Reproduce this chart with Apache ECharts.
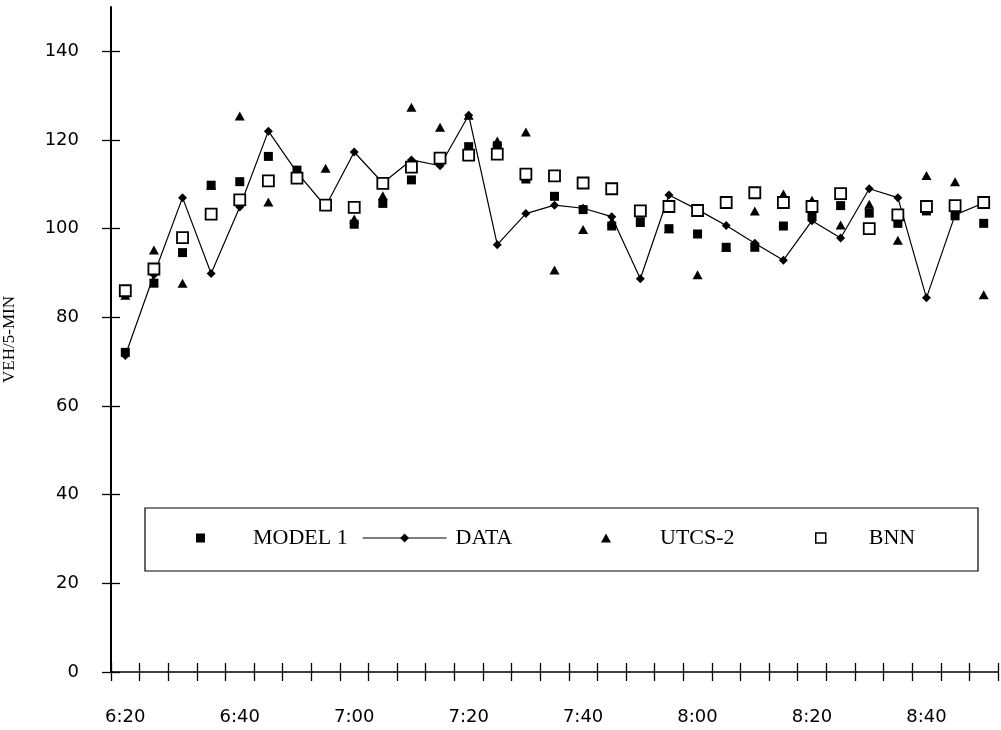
<!DOCTYPE html>
<html>
<head>
<meta charset="utf-8">
<script src="https://cdn.jsdelivr.net/npm/echarts@6/dist/echarts.min.js"></script>
<style>
html,body{margin:0;padding:0;background:#fff;}
#chart{width:1001px;height:730px;}
</style>
</head>
<body>
<div id="chart"></div>
<script>
const times = ['6:20','6:25','6:30','6:35','6:40','6:45','6:50','6:55','7:00','7:05','7:10','7:15','7:20','7:25','7:30','7:35','7:40','7:45','7:50','7:55','8:00','8:05','8:10','8:15','8:20','8:25','8:30','8:35','8:40','8:45','8:50'];
const yTicks = [0, 20, 40, 60, 80, 100, 120, 140];
const model1 = [72.1,87.7,94.6,109.8,110.6,116.3,113.2,105.0,101.0,105.7,111.0,115.5,118.5,118.7,111.2,107.3,104.3,100.6,101.4,100.0,98.8,95.8,95.8,100.6,102.7,105.2,103.5,101.2,104.0,102.9,101.2];
const dataVals = [71.4,89.6,107.0,89.9,104.9,122.0,112.7,105.0,117.3,110.3,115.5,114.2,125.6,96.4,103.4,105.3,104.6,102.7,88.7,107.6,104.3,100.7,96.7,92.9,101.8,97.9,109.0,107.0,84.4,103.1,105.8];
const utcs2 = [85.0,95.2,87.7,109.8,125.4,106.0,113.2,113.6,102.2,107.4,127.4,122.9,125.6,119.8,121.8,90.7,99.8,101.6,103.5,100.0,89.6,95.8,104.0,107.8,106.4,100.8,105.5,97.4,112.0,110.6,85.1];
const bnn = [86.0,90.9,98.0,103.3,106.5,110.8,111.4,105.3,104.8,110.2,113.9,115.9,116.6,116.8,112.3,111.9,110.3,109.0,104.0,105.0,104.1,105.9,108.1,105.9,105.0,107.9,100.0,103.1,105.0,105.2,105.9];

const chart = echarts.init(document.getElementById('chart'), null, {renderer: 'canvas'});
const sans = 'DejaVu Sans';
const serif = 'Liberation Serif';
const legendText = {fontFamily: serif, fontSize: 22, color: '#000'};

const option = {
  animation: false,
  backgroundColor: '#fff',
  grid: {left: 111, right: 3, top: 7, bottom: 58, containLabel: false, outerBoundsMode: 'none'},
  xAxis: [
    {
      type: 'category', data: times, boundaryGap: true, position: 'bottom',
      axisLine: {show: true, lineStyle: {color: '#000', width: 1.5}},
      axisTick: {show: true, inside: false, length: 9, interval: 0, lineStyle: {color: '#000', width: 1.3}},
      axisLabel: {show: true, interval: 3, margin: 36, color: '#000', fontFamily: sans, fontSize: 18},
      splitLine: {show: false}
    },
    {
      type: 'category', data: times, boundaryGap: true, position: 'bottom',
      axisLine: {show: false},
      axisTick: {show: true, inside: true, length: 9, interval: 0, lineStyle: {color: '#000', width: 1.3}},
      axisLabel: {show: false},
      splitLine: {show: false}
    }
  ],
  yAxis: [
    {
      type: 'value', min: 0, max: 150, position: 'left',
      name: 'VEH/5-MIN', nameLocation: 'middle', nameGap: 93,
      nameTextStyle: {fontFamily: serif, fontSize: 17, color: '#000'},
      axisLine: {show: true, lineStyle: {color: '#000', width: 2}},
      axisTick: {show: true, inside: false, length: 9, customValues: yTicks, lineStyle: {color: '#000', width: 1.3}},
      axisLabel: {show: true, customValues: yTicks, margin: 32, color: '#000', fontFamily: sans, fontSize: 18},
      splitLine: {show: false}
    },
    {
      type: 'value', min: 0, max: 150, position: 'left',
      axisLine: {show: false},
      axisTick: {show: true, inside: true, length: 9, customValues: yTicks, lineStyle: {color: '#000', width: 1.3}},
      axisLabel: {show: false},
      splitLine: {show: false}
    }
  ],
  legend: [
    {data: ['MODEL 1'], left: 196, top: 527, padding: 0, itemWidth: 9, itemHeight: 9, icon: 'rect', selectedMode: false,
     itemStyle: {color: '#000', borderWidth: 0, opacity: 1},
     textStyle: Object.assign({padding: [0, 0, 0, 43]}, legendText)},
    {data: ['DATA'], left: 362, top: 527, padding: 0, itemWidth: 84, itemHeight: 11, selectedMode: false,
     itemStyle: {color: '#000', borderWidth: 0, opacity: 1}, lineStyle: {color: '#000', width: 1.2},
     textStyle: Object.assign({padding: [0, 0, 0, 4]}, legendText)},
    {data: ['UTCS-2'], left: 601, top: 527, padding: 0, itemWidth: 10, itemHeight: 9, icon: 'triangle', selectedMode: false,
     itemStyle: {color: '#000', borderWidth: 0, opacity: 1},
     textStyle: Object.assign({padding: [0, 0, 0, 44]}, legendText)},
    {data: ['BNN'], left: 815, top: 527, padding: 0, itemWidth: 10, itemHeight: 10, icon: 'rect', selectedMode: false,
     itemStyle: {color: '#fff', borderColor: '#000', borderWidth: 1.5, opacity: 1},
     textStyle: Object.assign({padding: [0, 0, 0, 38]}, legendText)}
  ],
  graphic: [
    {type: 'rect', shape: {x: 145, y: 508, width: 833, height: 63}, style: {fill: 'none', stroke: '#000', lineWidth: 1.2}, silent: true, z: 0}
  ],
  series: [
    {
      name: 'UTCS-2', type: 'scatter', data: utcs2, symbol: 'triangle', symbolSize: [10, 9],
      itemStyle: {color: '#000', opacity: 1}, z: 2, emphasis: {disabled: true}
    },
    {
      name: 'DATA', type: 'line', data: dataVals, symbol: 'diamond', symbolSize: 9, showAllSymbol: true,
      lineStyle: {color: '#000', width: 1.2}, itemStyle: {color: '#000', opacity: 1}, z: 3, emphasis: {disabled: true}
    },
    {
      name: 'MODEL 1', type: 'scatter', data: model1, symbol: 'rect', symbolSize: 9,
      itemStyle: {color: '#000', opacity: 1}, z: 4, emphasis: {disabled: true}
    },
    {
      name: 'BNN', type: 'scatter', data: bnn, symbol: 'rect', symbolSize: 11,
      itemStyle: {color: '#fff', borderColor: '#000', borderWidth: 1.8, opacity: 1}, z: 5, emphasis: {disabled: true}
    }
  ]
};
chart.setOption(option);
</script>
</body>
</html>
